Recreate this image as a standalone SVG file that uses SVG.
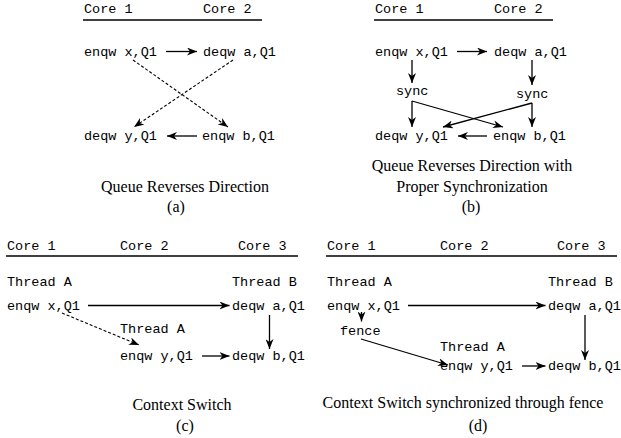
<svg xmlns="http://www.w3.org/2000/svg" width="621" height="438" viewBox="0 0 621 438">
<style>
.m{font-family:"Liberation Mono","Courier New",monospace;font-size:13.5px;fill:#000}
.c{font-family:"Liberation Serif","Times New Roman",serif;font-size:16px;fill:#000;text-anchor:middle}
.rule{stroke:#000;stroke-width:1.5;fill:none}
.a{stroke:#000;stroke-width:1.3;fill:none;marker-end:url(#ah)}
.d{stroke:#000;stroke-width:1.1;fill:none;stroke-dasharray:3 2;marker-end:url(#ah)}
</style>
<defs>
<marker id="ah" markerUnits="userSpaceOnUse" viewBox="0 0 10 8" refX="10" refY="4" markerWidth="10" markerHeight="8" orient="auto">
<path d="M0,0 L10,4 L0,8 L3,4 z" fill="#000"/>
</marker>
</defs>
<rect width="621" height="438" fill="#fff"/>

<!-- Panel a -->
<g id="panel-a-header">
<text class="m" x="84" y="13">Core 1</text>
<text class="m" x="203" y="13">Core 2</text>
<line class="rule" x1="83" y1="20" x2="262" y2="20"/>
</g>
<g id="a-enq-x"><text class="m" x="84" y="56">enqw x,Q1</text></g>
<g id="a-deq-a"><text class="m" x="203" y="56">deqw a,Q1</text></g>
<g id="a-deq-y"><text class="m" x="84" y="140">deqw y,Q1</text></g>
<g id="a-enq-b"><text class="m" x="202" y="140">enqw b,Q1</text></g>
<g id="a-caption">
<text class="c" x="185" y="192">Queue Reverses Direction</text>
<text class="c" x="176" y="212">(a)</text>
</g>

<!-- Panel b -->
<g id="panel-b-header">
<text class="m" x="375" y="13">Core 1</text>
<text class="m" x="494" y="13">Core 2</text>
<line class="rule" x1="374" y1="20" x2="553" y2="20"/>
</g>
<g id="b-enq-x"><text class="m" x="375" y="56">enqw x,Q1</text></g>
<g id="b-deq-a"><text class="m" x="494" y="56">deqw a,Q1</text></g>
<g id="b-sync-1"><text class="m" x="396" y="95">sync</text></g>
<g id="b-sync-2"><text class="m" x="516" y="98">sync</text></g>
<g id="b-deq-y"><text class="m" x="375" y="140">deqw y,Q1</text></g>
<g id="b-enq-b"><text class="m" x="493" y="140">enqw b,Q1</text></g>
<g id="b-caption">
<text class="c" x="472" y="171">Queue Reverses Direction with</text>
<text class="c" x="472" y="192">Proper Synchronization</text>
<text class="c" x="471" y="212">(b)</text>
</g>

<!-- Panel c -->
<g id="panel-c-header">
<text class="m" x="7" y="250">Core 1</text>
<text class="m" x="120" y="250">Core 2</text>
<text class="m" x="238" y="250">Core 3</text>
<line class="rule" x1="6" y1="256" x2="298" y2="256"/>
</g>
<g id="c-thread-a"><text class="m" x="7" y="286">Thread A</text></g>
<g id="c-thread-b"><text class="m" x="232" y="286">Thread B</text></g>
<g id="c-enq-x"><text class="m" x="7" y="310">enqw x,Q1</text></g>
<g id="c-deq-a"><text class="m" x="232" y="310">deqw a,Q1</text></g>
<g id="c-thread-a2"><text class="m" x="120" y="333">Thread A</text></g>
<g id="c-enq-y"><text class="m" x="120" y="360">enqw y,Q1</text></g>
<g id="c-deq-b"><text class="m" x="232" y="360">deqw b,Q1</text></g>
<g id="c-caption">
<text class="c" x="182" y="410">Context Switch</text>
<text class="c" x="185" y="431">(c)</text>
</g>

<!-- Panel d -->
<g id="panel-d-header">
<text class="m" x="327" y="250">Core 1</text>
<text class="m" x="440" y="250">Core 2</text>
<text class="m" x="557" y="250">Core 3</text>
<line class="rule" x1="326" y1="256" x2="617" y2="256"/>
</g>
<g id="d-thread-a"><text class="m" x="327" y="286">Thread A</text></g>
<g id="d-thread-b"><text class="m" x="548" y="286">Thread B</text></g>
<g id="d-enq-x"><text class="m" x="327" y="310">enqw x,Q1</text></g>
<g id="d-deq-a"><text class="m" x="548" y="310">deqw a,Q1</text></g>
<g id="d-fence"><text class="m" x="340" y="335">fence</text></g>
<g id="d-thread-a2"><text class="m" x="440" y="351">Thread A</text></g>
<g id="d-enq-y"><text class="m" x="440" y="370">enqw y,Q1</text></g>
<g id="d-deq-b"><text class="m" x="548" y="370">deqw b,Q1</text></g>
<g id="d-caption">
<text class="c" x="463" y="408">Context Switch synchronized through fence</text>
<text class="c" x="478" y="431">(d)</text>
</g>

<g id="connectors">
<!-- a -->
<line class="a" x1="166" y1="51.5" x2="197" y2="51.5"/>
<line class="d" x1="133" y1="60" x2="228" y2="127"/>
<line class="d" x1="233" y1="60" x2="134" y2="127"/>
<line class="a" x1="197" y1="136" x2="167" y2="136"/>
<!-- b -->
<line class="a" x1="457" y1="51.5" x2="487" y2="51.5"/>
<line class="a" x1="412" y1="60" x2="412" y2="83"/>
<line class="a" x1="532" y1="60" x2="532" y2="85"/>
<line class="a" x1="412" y1="101" x2="412" y2="127"/>
<line class="a" x1="412" y1="101" x2="503" y2="127"/>
<line class="a" x1="532" y1="103" x2="532" y2="127"/>
<line class="a" x1="532" y1="103" x2="443" y2="127"/>
<line class="a" x1="487" y1="136" x2="458" y2="136"/>
<!-- c -->
<line class="a" x1="88" y1="305.5" x2="229.5" y2="305.5"/>
<line class="d" x1="62" y1="313" x2="139" y2="345"/>
<line class="a" x1="269.5" y1="315" x2="269.5" y2="349"/>
<line class="a" x1="202" y1="356" x2="229.5" y2="356"/>
<!-- d -->
<line class="a" x1="408" y1="305.5" x2="545.5" y2="305.5"/>
<line class="a" x1="361.5" y1="312" x2="361.5" y2="321.5"/>
<line class="a" x1="361" y1="339" x2="448" y2="365"/>
<line class="a" x1="585" y1="315" x2="585" y2="360"/>
<line class="a" x1="522" y1="366" x2="545.5" y2="366"/>
</g>
</svg>
